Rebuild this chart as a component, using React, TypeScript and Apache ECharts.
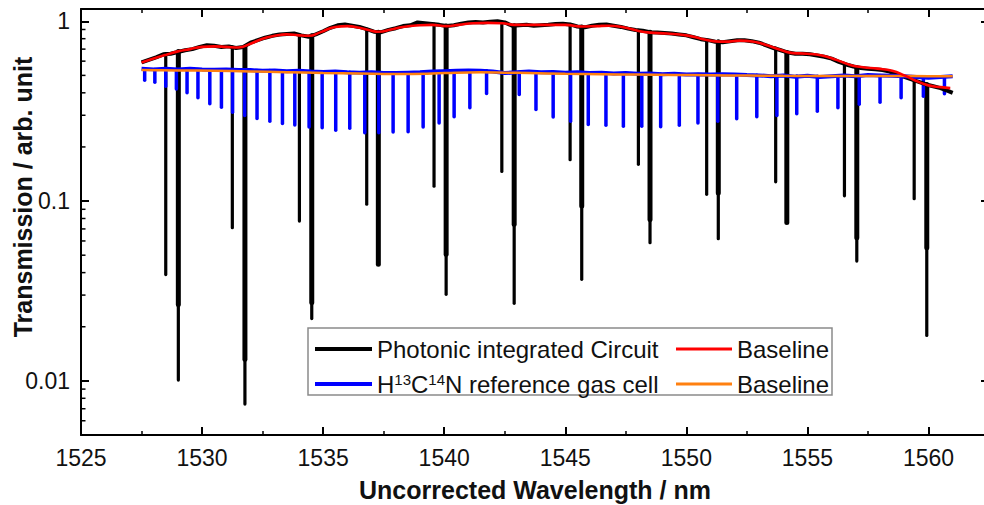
import React, { useEffect, useRef } from 'react';
import * as echarts from 'echarts';

// ---------- axis ranges ----------
const X_MIN = 1525;
const X_MAX = 1562.5;
const Y_MIN = 0.005;
const Y_MAX = 1.17;

const xTitle = 'Uncorrected Wavelength / nm';
const yTitle = 'Transmission / arb. unit';

const PIC_NAME = 'Photonic integrated Circuit';
const PIC_BASE_NAME = 'Baseline (PIC)';
const HCN_NAME = 'H13C14N reference gas cell';
const HCN_BASE_NAME = 'Baseline (HCN)';

// ---------- Photonic integrated circuit transmission (off-resonance trace) ----------
const picCurve: [number, number][] = [
  [1527.5, 0.59], [1527.8, 0.61], [1528.1, 0.63], [1528.4, 0.655], [1528.7, 0.66],
  [1529.0, 0.675], [1529.3, 0.69], [1529.6, 0.70], [1529.9, 0.72], [1530.2, 0.735],
  [1530.5, 0.73], [1530.8, 0.72], [1531.1, 0.725], [1531.4, 0.71], [1531.7, 0.72],
  [1532.0, 0.76], [1532.3, 0.785], [1532.6, 0.81], [1532.9, 0.83], [1533.2, 0.845],
  [1533.5, 0.85], [1533.8, 0.855], [1534.1, 0.835], [1534.4, 0.82], [1534.7, 0.845],
  [1535.0, 0.88], [1535.3, 0.92], [1535.6, 0.95], [1535.9, 0.96], [1536.2, 0.945],
  [1536.5, 0.93], [1536.8, 0.905], [1537.1, 0.875], [1537.4, 0.87], [1537.7, 0.895],
  [1538.0, 0.915], [1538.3, 0.94], [1538.6, 0.95], [1538.9, 0.985], [1539.2, 0.975],
  [1539.5, 0.965], [1539.8, 0.955], [1540.1, 0.94], [1540.4, 0.95], [1540.7, 0.97],
  [1541.0, 0.985], [1541.3, 0.99], [1541.6, 0.985], [1541.9, 0.995], [1542.2, 1.0],
  [1542.5, 0.985], [1542.8, 0.945], [1543.1, 0.95], [1543.4, 0.955], [1543.7, 0.945],
  [1544.0, 0.95], [1544.3, 0.955], [1544.6, 0.965], [1544.9, 0.97], [1545.2, 0.96],
  [1545.5, 0.935], [1545.8, 0.925], [1546.1, 0.945], [1546.4, 0.955], [1546.7, 0.96],
  [1547.0, 0.945], [1547.3, 0.93], [1547.6, 0.91], [1547.9, 0.895], [1548.2, 0.885],
  [1548.5, 0.87], [1548.8, 0.865], [1549.1, 0.86], [1549.4, 0.855], [1549.7, 0.845],
  [1550.0, 0.835], [1550.3, 0.815], [1550.6, 0.795], [1550.9, 0.785], [1551.2, 0.77],
  [1551.5, 0.765], [1551.8, 0.775], [1552.1, 0.785], [1552.4, 0.785], [1552.7, 0.775],
  [1553.0, 0.76], [1553.3, 0.735], [1553.6, 0.71], [1553.9, 0.69], [1554.2, 0.67],
  [1554.5, 0.66], [1554.8, 0.66], [1555.1, 0.655], [1555.4, 0.645], [1555.7, 0.635],
  [1556.0, 0.62], [1556.3, 0.595], [1556.6, 0.575], [1556.9, 0.56], [1557.2, 0.55],
  [1557.5, 0.545], [1557.8, 0.54], [1558.1, 0.535], [1558.4, 0.525], [1558.7, 0.505],
  [1559.0, 0.49], [1559.3, 0.475], [1559.6, 0.46], [1559.9, 0.445], [1560.2, 0.435],
  [1560.5, 0.425], [1560.8, 0.41], [1561.0, 0.40],
];

// resonance dips: [wavelength, level at top, end of broad part, minimum]
const picDips: [number, number, number, number][] = [
  [1528.50, 0.66, 0.66, 0.039], [1529.02, 0.68, 0.0266, 0.0101],
  [1531.25, 0.72, 0.72, 0.0711], [1531.77, 0.72, 0.0132, 0.00743],
  [1534.02, 0.84, 0.84, 0.0774], [1534.53, 0.83, 0.0273, 0.0222],
  [1536.80, 0.905, 0.905, 0.096], [1537.28, 0.87, 0.0445, 0.0445],
  [1539.58, 0.965, 0.965, 0.121], [1540.08, 0.94, 0.0506, 0.0303],
  [1542.38, 0.99, 0.99, 0.146], [1542.89, 0.945, 0.0742, 0.027],
  [1545.20, 0.96, 0.96, 0.17], [1545.68, 0.93, 0.094, 0.0367],
  [1548.02, 0.89, 0.89, 0.16], [1548.50, 0.87, 0.079, 0.0587],
  [1550.84, 0.785, 0.785, 0.109], [1551.32, 0.77, 0.111, 0.0618],
  [1553.69, 0.71, 0.71, 0.128], [1554.15, 0.67, 0.076, 0.076],
  [1556.53, 0.58, 0.58, 0.107], [1557.04, 0.55, 0.0626, 0.0464],
  [1559.41, 0.47, 0.47, 0.103], [1559.93, 0.445, 0.055, 0.0179],
];

const picBaseline: [number, number][] = [
  [1527.5, 0.59], [1528.0, 0.62], [1528.5, 0.65], [1529.0, 0.68], [1529.5, 0.70],
  [1530.0, 0.72], [1530.5, 0.725], [1531.0, 0.72], [1531.5, 0.715], [1532.0, 0.75],
  [1532.5, 0.80], [1533.0, 0.83], [1533.5, 0.845], [1534.0, 0.835], [1534.4, 0.83],
  [1534.9, 0.87], [1535.5, 0.93], [1536.0, 0.94], [1536.5, 0.92], [1537.0, 0.885],
  [1537.3, 0.875], [1537.8, 0.90], [1538.3, 0.93], [1539.0, 0.95], [1539.5, 0.955],
  [1540.1, 0.94], [1540.6, 0.955], [1541.2, 0.975], [1541.8, 0.98], [1542.4, 0.975],
  [1542.9, 0.955], [1543.5, 0.955], [1544.2, 0.955], [1545.0, 0.955], [1545.7, 0.935],
  [1546.3, 0.94], [1546.8, 0.945], [1547.5, 0.92], [1548.0, 0.885], [1548.5, 0.865],
  [1549.2, 0.855], [1550.0, 0.835], [1550.6, 0.80], [1551.1, 0.775], [1551.6, 0.77],
  [1552.2, 0.78], [1552.8, 0.77], [1553.4, 0.73], [1554.0, 0.685], [1554.4, 0.665],
  [1555.0, 0.66], [1555.6, 0.645], [1556.2, 0.61], [1556.8, 0.57], [1557.3, 0.555],
  [1557.9, 0.545], [1558.5, 0.53], [1559.0, 0.50], [1559.5, 0.465], [1560.0, 0.44],
  [1560.5, 0.43], [1560.9, 0.425],
];

// ---------- H13C14N reference gas cell ----------
const hcnCurve: [number, number][] = [
  [1527.5, 0.545], [1528.0, 0.54], [1528.5, 0.545], [1529.0, 0.54], [1529.5, 0.545],
  [1530.0, 0.54], [1530.5, 0.538], [1531.0, 0.54], [1531.5, 0.535], [1532.0, 0.535],
  [1532.5, 0.53], [1533.0, 0.533], [1533.5, 0.528], [1534.0, 0.53], [1534.5, 0.525],
  [1535.0, 0.522], [1535.5, 0.525], [1536.0, 0.52], [1536.5, 0.518], [1537.0, 0.52],
  [1537.5, 0.515], [1538.0, 0.515], [1538.5, 0.518], [1539.0, 0.52], [1539.5, 0.525],
  [1540.0, 0.528], [1540.5, 0.53], [1541.0, 0.532], [1541.5, 0.53], [1542.0, 0.525],
  [1542.5, 0.515], [1543.0, 0.52], [1543.5, 0.525], [1544.0, 0.52], [1544.5, 0.522],
  [1545.0, 0.518], [1545.5, 0.52], [1546.0, 0.515], [1546.5, 0.518], [1547.0, 0.512],
  [1547.5, 0.515], [1548.0, 0.51], [1548.5, 0.512], [1549.0, 0.508], [1549.5, 0.51],
  [1550.0, 0.505], [1550.5, 0.508], [1551.0, 0.505], [1551.5, 0.508], [1552.0, 0.505],
  [1552.5, 0.502], [1553.0, 0.50], [1553.5, 0.495], [1554.0, 0.50], [1554.5, 0.492],
  [1555.0, 0.498], [1555.5, 0.49], [1556.0, 0.495], [1556.5, 0.50], [1557.0, 0.495],
  [1557.5, 0.502], [1558.0, 0.50], [1558.5, 0.498], [1559.0, 0.495], [1559.5, 0.49],
  [1560.0, 0.485], [1560.5, 0.49], [1561.0, 0.495],
];

// absorption lines: [wavelength, level at top, minimum]
const hcnDips: [number, number, number][] = [
  [1527.63, 0.54, 0.47], [1528.05, 0.54, 0.458], [1528.50, 0.54, 0.435], [1528.94, 0.54, 0.42],
  [1529.38, 0.54, 0.40], [1529.83, 0.54, 0.375], [1530.32, 0.538, 0.348], [1530.80, 0.538, 0.333],
  [1531.26, 0.536, 0.312], [1531.76, 0.535, 0.299], [1532.27, 0.532, 0.288], [1532.80, 0.532, 0.278],
  [1533.32, 0.528, 0.27], [1533.83, 0.528, 0.265], [1534.42, 0.525, 0.258], [1534.96, 0.522, 0.256],
  [1535.52, 0.522, 0.248], [1536.10, 0.52, 0.254], [1536.72, 0.518, 0.24], [1537.30, 0.516, 0.24],
  [1537.89, 0.515, 0.242], [1538.51, 0.516, 0.243], [1539.13, 0.52, 0.258], [1539.79, 0.525, 0.272],
  [1540.41, 0.528, 0.294], [1541.06, 0.53, 0.33], [1541.75, 0.53, 0.397], [1543.10, 0.52, 0.392],
  [1543.79, 0.522, 0.323], [1544.50, 0.52, 0.293], [1545.22, 0.518, 0.278], [1545.95, 0.516, 0.267],
  [1546.68, 0.515, 0.264], [1547.40, 0.513, 0.261], [1548.16, 0.51, 0.261], [1548.94, 0.508, 0.259],
  [1549.71, 0.508, 0.264], [1550.48, 0.506, 0.272], [1551.30, 0.506, 0.278], [1552.08, 0.504, 0.287],
  [1552.91, 0.501, 0.294], [1553.74, 0.498, 0.299], [1554.56, 0.496, 0.306], [1555.41, 0.495, 0.316],
  [1556.26, 0.495, 0.33], [1557.14, 0.497, 0.345], [1558.00, 0.499, 0.355], [1558.87, 0.496, 0.375],
  [1559.79, 0.49, 0.383], [1560.66, 0.49, 0.395],
];

const hcnBaseline: [number, number][] = [
  [1527.5, 0.535], [1529.0, 0.533], [1530.5, 0.53], [1532.0, 0.526], [1533.5, 0.521],
  [1535.0, 0.516], [1536.5, 0.512], [1538.0, 0.509], [1539.5, 0.512], [1540.5, 0.518],
  [1541.5, 0.52], [1542.5, 0.518], [1543.5, 0.515], [1545.0, 0.511], [1546.5, 0.508],
  [1548.0, 0.505], [1549.5, 0.503], [1551.0, 0.501], [1552.5, 0.499], [1554.0, 0.497],
  [1555.5, 0.496], [1557.0, 0.496], [1558.5, 0.496], [1560.0, 0.495], [1561.0, 0.494],
];

// minor tick values of the log axis
const yMinorTicks = [
  0.006, 0.007, 0.008, 0.009,
  0.02, 0.03, 0.04, 0.05, 0.06, 0.07, 0.08, 0.09,
  0.2, 0.3, 0.4, 0.5, 0.6, 0.7, 0.8, 0.9,
];

const FONT = '"Liberation Sans", Arial, Helvetica, sans-serif';
const AXIS_COLOR = '#000';

function segmentRenderer(color: string, width: number) {
  return (_params: any, api: any) => {
    const a = api.coord([api.value(0), api.value(1)]);
    const b = api.coord([api.value(0), api.value(2)]);
    return {
      type: 'line',
      shape: { x1: a[0], y1: a[1], x2: b[0], y2: b[1] },
      style: { stroke: color, lineWidth: width, lineCap: 'round' },
    };
  };
}

function buildOption(): any {
  const axisLine = { show: true, lineStyle: { color: AXIS_COLOR, width: 2 } };
  const majorTick = { show: true, inside: true, length: 8, lineStyle: { color: AXIS_COLOR, width: 2 } };
  const minorTick = { show: true, inside: true, length: 4, lineStyle: { color: AXIS_COLOR, width: 1.5 } };
  const noLabel = { show: false };
  const noSplit = { show: false };

  const legendText = {
    fontSize: 24,
    fontFamily: FONT,
    color: '#111',
    lineHeight: 24,
    rich: {
      a: { fontSize: 24, fontFamily: FONT, color: '#111', lineHeight: 24 },
      s: { fontSize: 15, fontFamily: FONT, color: '#111', verticalAlign: 'top', lineHeight: 14 },
    },
  };
  const legendFormatter = (name: string) => {
    if (name === HCN_NAME) return '{a|H}{s|13}{a|C}{s|14}{a|N reference gas cell}';
    if (name.startsWith('Baseline')) return 'Baseline';
    return name;
  };

  return {
    animation: false,
    backgroundColor: '#fff',
    grid: { left: 81, top: 9, width: 908, height: 426, containLabel: false, outerBoundsMode: 'none' },
    xAxis: [
      {
        type: 'value', position: 'bottom', min: X_MIN, max: X_MAX, interval: 5,
        axisLine, axisTick: majorTick, splitLine: noSplit,
        axisLabel: {
          fontSize: 23, fontFamily: FONT, color: '#111', margin: 11,
          formatter: (v: number) => (Math.abs(v % 5) < 1e-6 ? String(v) : ''),
        },
        name: xTitle, nameLocation: 'middle', nameGap: 42,
        nameTextStyle: { fontSize: 25, fontWeight: 'bold', fontFamily: FONT, color: '#111' },
      },
      {
        type: 'value', position: 'bottom', min: X_MIN, max: X_MAX, interval: 2.5,
        axisLine: { show: false }, axisTick: minorTick, axisLabel: noLabel, splitLine: noSplit,
      },
      {
        type: 'value', position: 'top', min: X_MIN, max: X_MAX, interval: 5,
        axisLine, axisTick: majorTick, axisLabel: noLabel, splitLine: noSplit,
      },
      {
        type: 'value', position: 'top', min: X_MIN, max: X_MAX, interval: 2.5,
        axisLine: { show: false }, axisTick: minorTick, axisLabel: noLabel, splitLine: noSplit,
      },
    ],
    yAxis: [
      {
        type: 'log', logBase: 10, position: 'left', min: Y_MIN, max: Y_MAX,
        axisLine, axisTick: majorTick, splitLine: noSplit, minorTick: { show: false },
        axisLabel: {
          fontSize: 23, fontFamily: FONT, color: '#111', margin: 11,
          formatter: (v: number) => {
            const l = Math.log10(v);
            return Math.abs(l - Math.round(l)) < 1e-6 ? String(+v.toPrecision(2)) : '';
          },
        },
      },
      {
        type: 'log', logBase: 10, position: 'right', min: Y_MIN, max: Y_MAX,
        axisLine, axisTick: majorTick, axisLabel: noLabel, splitLine: noSplit,
      },
    ],
    legend: [
      {
        data: [
          { name: PIC_NAME, icon: 'rect' },
          { name: HCN_NAME, icon: 'rect' },
        ],
        orient: 'vertical', left: 310, top: 332,
        itemWidth: 57, itemHeight: 4, itemGap: 11, selectedMode: false,
        textStyle: legendText, formatter: legendFormatter,
      },
      {
        data: [
          { name: PIC_BASE_NAME, icon: 'rect' },
          { name: HCN_BASE_NAME, icon: 'rect' },
        ],
        orient: 'vertical', left: 671, top: 332,
        itemWidth: 56, itemHeight: 3, itemGap: 11, selectedMode: false,
        textStyle: legendText, formatter: legendFormatter,
      },
    ],
    graphic: [
      {
        type: 'rect', z: 0,
        shape: { x: 308, y: 328, width: 524, height: 67 },
        style: { fill: 'transparent', stroke: '#8a8a8a', lineWidth: 1.5 },
      },
      {
        type: 'text', x: 23, y: 197, rotation: Math.PI / 2,
        style: {
          text: yTitle, fontSize: 25, fontWeight: 'bold', fontFamily: FONT, fill: '#111',
          align: 'center', verticalAlign: 'middle',
        },
      },
    ],
    series: [
      {
        type: 'line', name: PIC_NAME, data: picCurve, showSymbol: false, symbol: 'none',
        lineStyle: { color: '#000', width: 4 }, itemStyle: { color: '#000' }, silent: true, clip: true,
      },
      {
        type: 'custom', name: 'picDipsBroad', silent: true, clip: true,
        data: picDips.map((d) => [d[0], d[1], d[2]]),
        encode: { x: 0, y: [1, 2] },
        renderItem: segmentRenderer('#000', 5),
      },
      {
        type: 'custom', name: 'picDipsFull', silent: true, clip: true,
        data: picDips.map((d) => [d[0], d[1], d[3]]),
        encode: { x: 0, y: [1, 2] },
        renderItem: segmentRenderer('#000', 3.2),
      },
      {
        type: 'line', name: HCN_NAME, data: hcnCurve, showSymbol: false, symbol: 'none',
        lineStyle: { color: '#0000ff', width: 4 }, itemStyle: { color: '#0000ff' }, silent: true, clip: true,
      },
      {
        type: 'custom', name: 'hcnDips', silent: true, clip: true,
        data: hcnDips,
        encode: { x: 0, y: [1, 2] },
        renderItem: segmentRenderer('#0000ff', 3.5),
      },
      {
        type: 'line', name: HCN_BASE_NAME, data: hcnBaseline, showSymbol: false, symbol: 'none', smooth: true,
        lineStyle: { color: '#ff8010', width: 2.5 }, itemStyle: { color: '#ff8010' }, silent: true, clip: true,
      },
      {
        type: 'line', name: PIC_BASE_NAME, data: picBaseline, showSymbol: false, symbol: 'none', smooth: true,
        lineStyle: { color: '#ff0000', width: 2.6 }, itemStyle: { color: '#ff0000' }, silent: true, clip: true,
      },
      {
        type: 'custom', name: 'yMinorTicks', silent: true, clip: false,
        data: yMinorTicks.map((v) => [X_MIN, v]),
        encode: { x: 0, y: 1 },
        renderItem: (_p: any, api: any) => {
          const v = api.value(1);
          const l = api.coord([X_MIN, v]);
          const r = api.coord([X_MAX, v]);
          return {
            type: 'group',
            children: [
              { type: 'line', shape: { x1: l[0], y1: l[1], x2: l[0] + 4.5, y2: l[1] }, style: { stroke: AXIS_COLOR, lineWidth: 1.5 } },
              { type: 'line', shape: { x1: r[0] - 4.5, y1: r[1], x2: r[0], y2: r[1] }, style: { stroke: AXIS_COLOR, lineWidth: 1.5 } },
            ],
          };
        },
      },
    ],
  };
}

export default function App() {
  const ref = useRef<HTMLDivElement>(null);
  useEffect(() => {
    if (!ref.current) return;
    const chart = echarts.init(ref.current, null, { renderer: 'svg' });
    chart.setOption(buildOption());
    return () => chart.dispose();
  }, []);
  return (
    <div
      ref={ref}
      style={{ position: 'fixed', left: 0, top: 0, width: 984, height: 505, background: '#fff' }}
    />
  );
}
